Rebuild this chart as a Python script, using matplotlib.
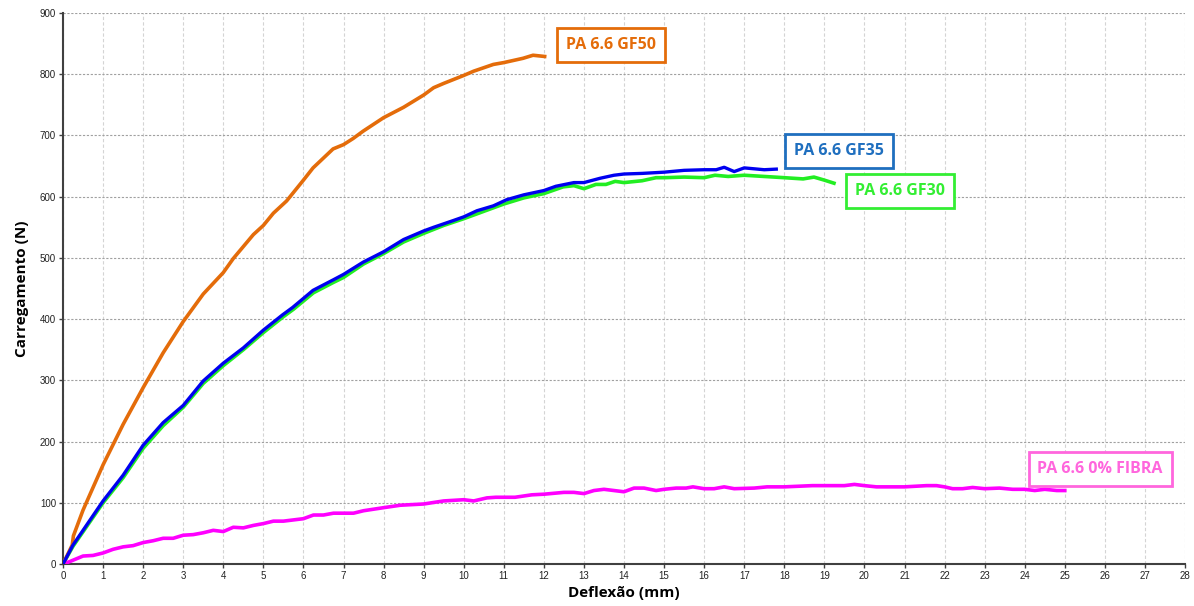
import matplotlib
matplotlib.use("Agg")
import matplotlib.pyplot as plt

# ---- data ----
gf50_x = [0, 0.23, 0.26, 0.5, 1.0, 1.5, 2.0, 2.5, 3.0, 3.5, 4.0, 4.25, 4.75, 5.0, 5.25, 5.58,
          6.0, 6.24, 6.74, 7.0, 7.24, 7.49, 8.0, 8.5, 9.0, 9.25, 9.5, 10.0, 10.25, 10.74,
          11.0, 11.48, 11.73, 12.02]
gf50_y = [0, 31, 46, 88, 162, 228, 288, 345, 396, 441, 476, 499, 538, 553, 573, 593,
          627, 647, 678, 685, 695, 707, 729, 746, 766, 778, 785, 798, 805, 816,
          819, 826, 831, 829]

gf35_x = [0, 0.25, 1.0, 1.5, 2.0, 2.5, 3.0, 3.5, 4.0, 4.5, 5.0, 5.48, 5.73, 6.24, 6.74, 7.0,
          7.49, 8.0, 8.5, 9.0, 9.25, 9.74, 10.0, 10.33, 10.74, 11.07, 11.5, 12.0, 12.3,
          12.75, 13.0, 13.4, 13.75, 14.0, 14.45, 15.0, 15.5, 16.0, 16.3, 16.5, 16.75,
          17.0, 17.5, 17.8]
gf35_y = [0, 31, 103, 145, 194, 231, 259, 299, 328, 353, 382, 407, 419, 447, 464, 473,
          493, 510, 530, 544, 550, 561, 567, 577, 585, 595, 603, 610, 617,
          623, 623, 630, 635, 637, 638, 640, 643, 644, 644, 648, 641,
          647, 644, 645]

gf30_x = [0, 0.25, 1.0, 1.5, 2.0, 2.5, 3.0, 3.5, 4.0, 4.5, 5.0, 5.5, 5.75, 6.25, 6.75, 7.0,
          7.5, 8.0, 8.5, 9.0, 9.5, 10.0, 10.5, 11.0, 11.5, 12.0, 12.48, 12.75, 13.0,
          13.3, 13.55, 13.78, 14.0, 14.45, 14.8, 15.0, 15.5, 16.0, 16.27, 16.6, 17.0,
          17.5, 18.0, 18.47, 18.74, 19.0, 19.24]
gf30_y = [0, 29, 100, 141, 189, 226, 256, 295, 324, 350, 378, 404, 416, 443, 460, 468,
          490, 507, 526, 540, 553, 564, 576, 588, 598, 605, 616, 618, 613,
          620, 620, 625, 623, 626, 631, 631, 632, 631, 635, 633, 635,
          633, 631, 629, 632, 627, 622]

gf0_x = [0, 0.17, 0.5, 0.75, 1.0, 1.25, 1.5, 1.75, 2.0, 2.25, 2.5, 2.75, 3.0, 3.25, 3.5,
         3.75, 4.0, 4.25, 4.5, 4.75, 5.0, 5.25, 5.5, 5.75, 6.0, 6.25, 6.5, 6.75, 7.25,
         7.5, 8.0, 8.42, 9.0, 9.5, 10.0, 10.25, 10.58, 10.8, 11.28, 11.7, 12.0, 12.5,
         12.75, 13.0, 13.25, 13.5, 14.0, 14.25, 14.5, 14.8, 15.0, 15.3, 15.55, 15.72,
         16.0, 16.25, 16.5, 16.75, 17.25, 17.57, 18.0, 18.7, 19.0, 19.5, 19.75, 20.0,
         20.3, 21.0, 21.55, 21.8, 22.0, 22.2, 22.45, 22.7, 23.0, 23.37, 23.7, 24.0,
         24.25, 24.5, 24.8, 25.0]
gf0_y = [0, 4, 13, 14, 18, 24, 28, 30, 35, 38, 42, 42, 47, 48, 51,
         55, 53, 60, 59, 63, 66, 70, 70, 72, 74, 80, 80, 83, 83,
         87, 92, 96, 98, 103, 105, 103, 108, 109, 109, 113, 114, 117,
         117, 115, 120, 122, 118, 124, 124, 120, 122, 124, 124, 126,
         123, 123, 126, 123, 124, 126, 126, 128, 128, 128, 130, 128,
         126, 126, 128, 128, 126, 123, 123, 125, 123, 124, 122, 122,
         120, 122, 120, 120]

labels = ["PA 6.6 GF50", "PA 6.6 GF35", "PA 6.6 GF30", "PA 6.6 0% FIBRA"]
label_pos = [(13.68, 848), (19.37, 675), (20.89, 609), (25.88, 155)]
line_colors = ["#E46C0A", "#0000F0", "#22EE22", "#FF00FF"]
text_colors = ["#E46C0A", "#1F6FBF", "#33EE33", "#FF66DD"]
edge_colors = ["#E46C0A", "#1F6FBF", "#33EE33", "#FF66DD"]

x_ticks = list(range(0, 29))
y_ticks = list(range(0, 901, 100))

# ---- figure ----
fig = plt.figure(figsize=(11.94, 6.06), dpi=100)
ax = fig.add_axes([63/1194, 1-564/606, (1185-63)/1194, (564-13)/606])

ax.plot(gf30_x, gf30_y, color=line_colors[2], lw=2.6, solid_joinstyle="round", zorder=3)
ax.plot(gf35_x, gf35_y, color=line_colors[1], lw=2.4, solid_joinstyle="round", zorder=4)
ax.plot(gf0_x, gf0_y, color=line_colors[3], lw=2.6, solid_joinstyle="round", zorder=3)
ax.plot(gf50_x, gf50_y, color=line_colors[0], lw=2.6, solid_joinstyle="round", zorder=3)

ax.set_xlim(0, 28)
ax.set_ylim(0, 900)
ax.set_xticks(x_ticks)
ax.set_yticks(y_ticks)
ax.tick_params(axis="both", labelsize=7, length=3, width=1, color="#404040",
               labelcolor="#222222", pad=2)
for lab in ax.get_xticklabels() + ax.get_yticklabels():
    lab.set_family("Liberation Sans")

ax.xaxis.grid(True, linestyle=(0, (3, 2)), color="#D4D4D4", lw=0.8)
ax.yaxis.grid(True, linestyle=(0, (2, 1.5)), color="#A0A0A0", lw=0.8)
ax.set_axisbelow(True)

for s in ["top", "right"]:
    ax.spines[s].set_visible(False)
for s in ["left", "bottom"]:
    ax.spines[s].set_color("#404040")
    ax.spines[s].set_linewidth(1.5)

ax.set_xlabel("Deflexão (mm)", fontsize=11, fontweight="bold", family="Open Sans", labelpad=4)
ax.set_ylabel("Carregamento (N)", fontsize=11, fontweight="bold", family="Open Sans", labelpad=8)

for lbl, (lx, ly), ec, tc in zip(labels, label_pos, edge_colors, text_colors):
    ax.text(lx, ly, lbl, ha="center", va="center", fontsize=11.5, fontweight="bold",
            family="Open Sans", color=tc, zorder=6,
            bbox=dict(boxstyle="square,pad=0.55", fc="white", ec=ec, lw=2))

fig.savefig("out.png", dpi=100)
